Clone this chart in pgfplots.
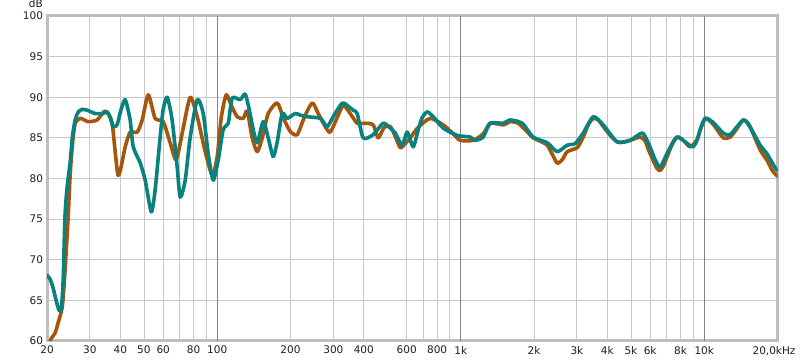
\documentclass[border=0pt]{standalone}
\usepackage{pgfplots}
\pgfplotsset{compat=1.18}
\usepackage{fontspec}
\setmainfont{DejaVu Sans}
\definecolor{brn}{RGB}{165,85,12}
\definecolor{tl}{RGB}{8,130,126}
\definecolor{gridc}{RGB}{200,200,200}
\definecolor{decc}{RGB}{130,130,130}
\definecolor{framec}{RGB}{190,190,190}
\definecolor{txt}{RGB}{30,30,30}
\begin{document}
\begin{tikzpicture}
\useasboundingbox (-47pt,-22pt) rectangle (753pt,341pt);
\begin{axis}[
  at={(0,0)}, anchor=south west,
  scale only axis, width=730.5pt, height=325pt,
  xmode=log, xmin=20, xmax=20000, ymin=60, ymax=100,
  xtick={20,30,40,50,60,80,100,200,300,400,600,800,1000,2000,3000,4000,5000,6000,8000,10000,20000},
  xticklabels={20,30,40,50,60,80,100,200,300,400,600,800,1k,2k,3k,4k,5k,6k,8k,10k,{20,0kHz\hspace*{7pt}}},
  minor xtick={70,90,700,900,7000,9000},
  extra x ticks={100,1000,10000},
  extra x tick labels={},
  extra x tick style={grid=major, major grid style={draw=decc, line width=0.8pt}},
  ytick={60,65,...,100},
  xmajorgrids, xminorgrids, ymajorgrids,
  major grid style={draw=gridc, line width=0.8pt},
  minor grid style={draw=gridc, line width=0.8pt},
  major tick length=0pt, minor tick length=0pt,
  axis line style={draw=framec, line width=3pt},
  /pgf/number format/assume math mode=true,
  tick label style={font=\fontsize{10.5}{12}\selectfont, text=txt},
  xticklabel style={yshift=-1.5pt},
  yticklabel style={xshift=-0.5pt},
  clip=true,
]
\addplot[brn, line width=3.6pt, line cap=round, line join=round, smooth, tension=0.4] coordinates {
(20,57.5)(20.6,60.0)(21.6,61.0)(22.2,62.2)(23.1,64.2)(23.7,68.5)(24.4,75)(24.9,80.5)(25.4,84)(26.1,86.8)(27.4,87.4)(29.5,87)(32.1,87.2)(34.7,88.3)(37.0,86.8)(39.2,80.4)(41.9,83.9)(43.9,85.7)(46.9,85.7)(49.2,87.2)(52.1,90.3)(55.6,87.4)(60.0,87)(64.1,84.4)(67.9,82.3)(72.5,86.2)(77.5,90)(82.8,87.6)(89.3,83.3)(95.4,80.4)(100,82.7)(103.9,87.5)(108.9,90.3)(114.2,89)(120.8,87.6)(127.9,87.4)(132.8,88.3)(139.2,85)(146,83.3)(153.1,85)(162,88)(176.4,89.3)(186.7,87.5)(199.4,85.8)(213.1,85.4)(227.7,87.5)(245.5,89.3)(259.9,88)(277.7,86.4)(291.1,85.7)(311,87.5)(329.2,89)(351.7,88)(375.7,86.8)(405.4,86.8)(437.1,86.6)(458.3,85)(485,86.3)(513.5,86.4)(538.3,85.2)(564.3,83.8)(591.7,84.3)(620.2,85)(669.1,86.3)(749.4,87.4)(847.5,86.6)(931.7,85.5)(995.3,84.7)(1125,84.7)(1237,85.5)(1322,86.8)(1495,86.6)(1597,87)(1722,86.8)(1841,86)(1985,85)(2121,84.6)(2266,84.1)(2375,83)(2490,81.9)(2611,82.3)(2738,83.3)(3010,83.8)(3186,85.1)(3340,86.6)(3501,87.4)(3670,87.2)(3848,86.4)(4112,85.3)(4393,84.5)(4650,84.5)(4968,84.7)(5460,85.1)(5724,84.6)(5888,83.6)(6175,82.2)(6412,81.2)(6597,81)(6787,81.5)(7047,82.7)(7388,84.2)(7745,85.1)(8198,84.7)(8759,83.9)(9359,84.8)(9628,86)(10095,87.4)(10787,86.8)(11309,86)(11968,85)(12791,85.1)(13662,86.2)(14461,87.2)(15161,86.8)(15893,85.5)(16982,83.5)(18145,82.2)(19025,81)(19945,80.3)(20000,80.3)
};
\addplot[tl, line width=3.6pt, line cap=round, line join=round, smooth, tension=0.4] coordinates {
(20,68.1)(20.6,67.6)(21.2,66.5)(21.8,65)(22.4,63.8)(22.9,64)(23.3,67.5)(23.7,75.3)(24.2,79)(24.9,82)(25.4,85)(26.1,87.2)(26.9,88.2)(27.9,88.5)(29.3,88.4)(31.5,88)(34.0,88)(35.3,88.2)(36.4,87.5)(37.4,86.4)(38.8,86.6)(40.3,88.5)(41.9,89.7)(43.9,87.2)(45.2,83.9)(48.3,81.9)(50.6,79.8)(53.6,75.9)(55.6,78.6)(58.3,85.1)(60.0,88.5)(62.3,90)(65.3,87.2)(68.5,81.4)(70.5,77.7)(73.9,79.8)(77.5,85.1)(82.8,89.7)(87.6,88)(91.8,83.1)(96.3,79.8)(101,82.3)(105.8,86)(111,86.8)(115.2,89.9)(124.3,89.7)(130.3,90.4)(135.3,88.5)(140.6,86)(146,84.4)(154.5,87)(162,85)(169.8,82.7)(176.4,84.5)(184.9,88)(193.9,87.4)(209.1,88)(219.2,87.8)(234.2,87.6)(264.9,87.4)(283,86.4)(299.5,87.6)(314,88.6)(329.2,89.3)(361.8,88.4)(375.7,88)(397.8,85)(437.1,85.4)(480.5,86.8)(513.5,86.2)(538.3,85.6)(575.1,84.1)(602.9,85.7)(638.1,83.9)(669.1,86)(694.9,87.5)(728.5,88.2)(771.2,87.6)(847.5,86.2)(967.5,85.3)(1094,85.1)(1147,84.7)(1237,85.1)(1322,86.8)(1495,86.8)(1597,87.2)(1789,86.8)(1985,85.1)(2266,84.4)(2490,83.3)(2738,84.1)(2953,84.3)(3186,85.6)(3501,87.6)(3848,86.6)(4393,84.5)(4968,84.7)(5564,85.6)(5888,84.4)(6292,82.3)(6597,81.4)(7047,83.1)(7745,85.1)(8925,83.9)(9359,84.8)(9628,86)(10095,87.4)(10787,87)(11968,85.6)(12791,85.4)(14461,87.2)(15450,86.3)(16982,84.1)(18145,83)(19572,81.3)(20000,81.0)
};
\end{axis}
\node[anchor=east, font=\fontsize{10.5}{12}\selectfont, text=txt, inner sep=0pt] at (-4pt,337pt) {dB};
\end{tikzpicture}
\end{document}
